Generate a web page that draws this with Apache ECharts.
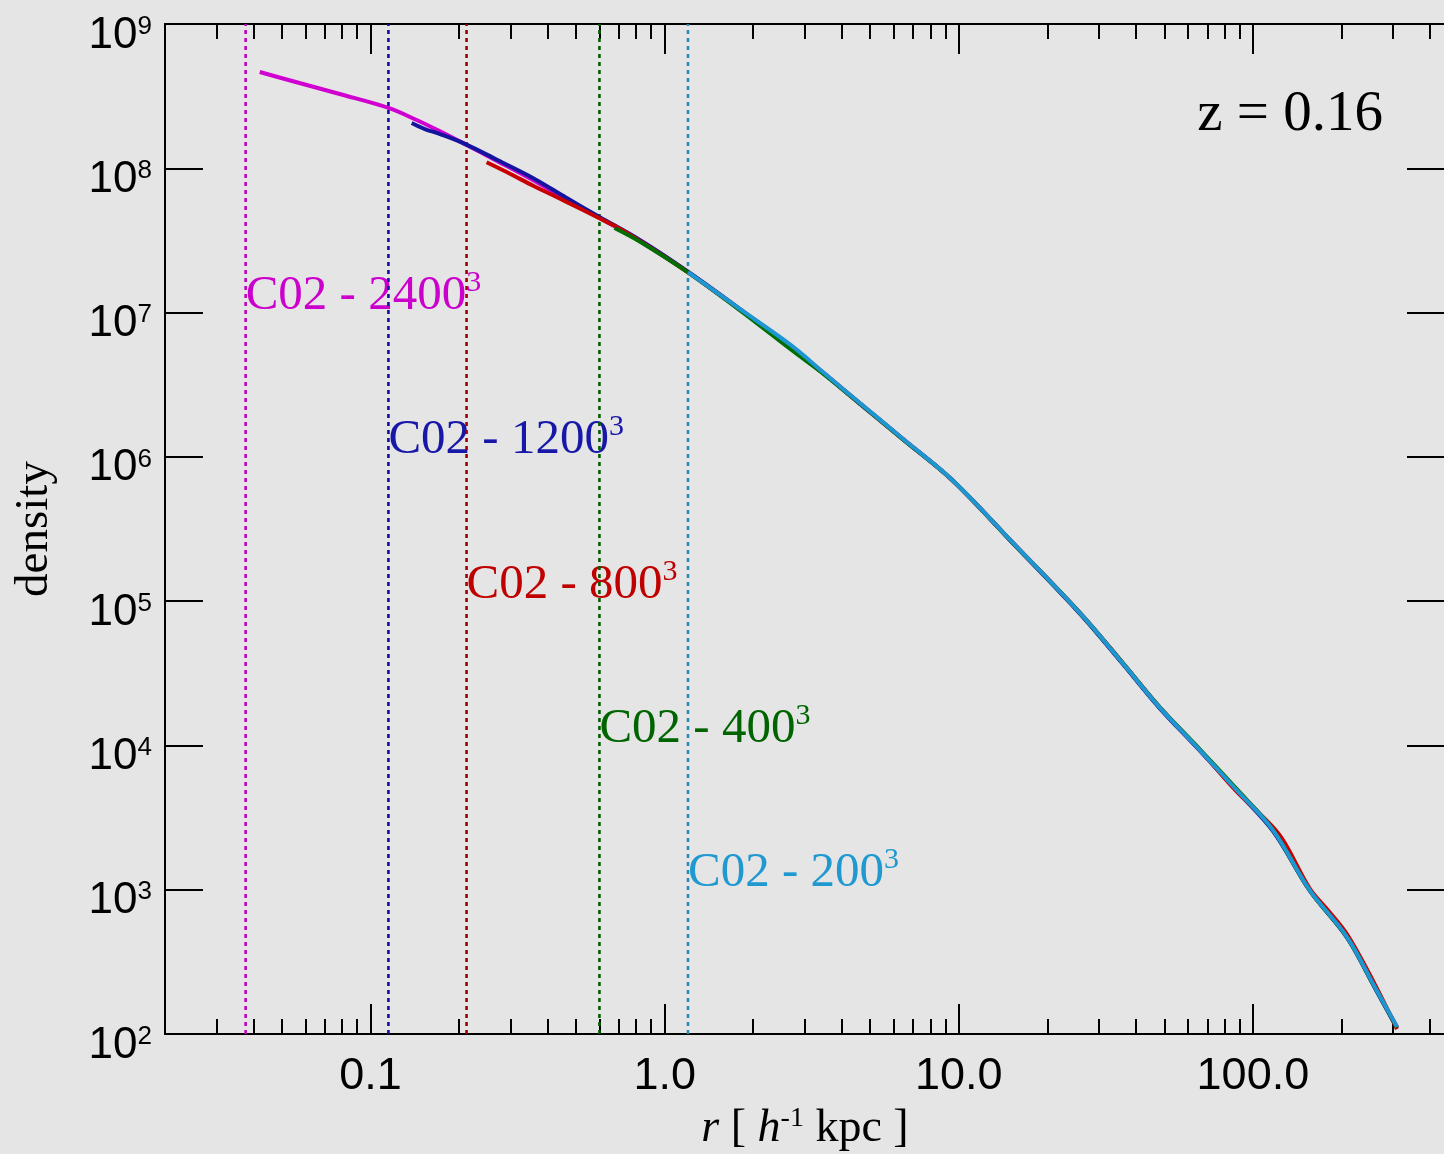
<!DOCTYPE html>
<html>
<head>
<meta charset="utf-8">
<script src="https://cdn.jsdelivr.net/npm/echarts@6/dist/echarts.min.js"></script>
<style>
  html, body { margin: 0; padding: 0; background: #e5e5e5; }
  #chart { width: 1444px; height: 1154px; }
</style>
</head>
<body>
<div id="chart"></div>
<script>
// Spherical density profiles of halo C02 at five resolutions (z = 0.16)
const r2400 = [0.042, 0.0573, 0.0785, 0.115, 0.1434, 0.1716, 0.212, 0.27, 0.356, 0.46, 0.60, 0.82, 1.2, 1.8, 2.7, 3.5, 4.6, 6.5, 9.5, 15, 25.8, 36, 48, 66, 88, 117, 156, 209, 260, 309];
const rho2400 = [4.65e8, 3.90e8, 3.27e8, 2.62e8, 2.16e8, 1.81e8, 1.45e8, 1.12e8, 8.3e7, 6.15e7, 4.52e7, 3.18e7, 1.91e7, 1.05e7, 5.77e6, 3.76e6, 2.36e6, 1.32e6, 6.92e5, 2.64e5, 8.28e4, 3.74e4, 1.85e4, 9.27e3, 4.91e3, 2.59e3, 995, 470, 211, 112];

const r1200 = [0.138, 0.153, 0.1716, 0.212, 0.27, 0.356, 0.46, 0.60, 0.82, 1.2, 1.8, 2.7, 3.5, 4.6, 6.5, 9.5, 15, 25.8, 36, 48, 66, 88, 117, 156, 209, 260, 309];
const rho1200 = [2.06e8, 1.87e8, 1.73e8, 1.46e8, 1.14e8, 8.57e7, 6.3e7, 4.6e7, 3.2e7, 1.92e7, 1.06e7, 5.7e6, 3.72e6, 2.34e6, 1.31e6, 6.9e5, 2.62e5, 8.2e4, 3.7e4, 1.83e4, 9.2e3, 4.85e3, 2.55e3, 990, 465, 208, 110];

const r800 = [0.248, 0.30, 0.356, 0.46, 0.60, 0.687, 0.82, 1.2, 1.8, 2.7, 3.5, 4.6, 6.5, 9.5, 15, 25.8, 36, 48, 66, 88, 105, 125, 156, 180, 209, 260, 309];
const rho800 = [1.10e8, 9.1e7, 7.6e7, 5.9e7, 4.5e7, 3.92e7, 3.15e7, 1.9e7, 1.05e7, 5.6e6, 3.74e6, 2.35e6, 1.31e6, 6.9e5, 2.63e5, 8.3e4, 3.76e4, 1.86e4, 9.3e3, 4.8e3, 3.4e3, 2.3e3, 1.02e3, 720, 490, 220, 108];

const r400 = [0.675, 0.82, 1.2, 1.8, 2.7, 3.5, 4.6, 6.5, 9.5, 15, 25.8, 36, 48, 66, 88, 117, 156, 209, 260, 309];
const rho400 = [3.86e7, 3.12e7, 1.9e7, 1.04e7, 5.5e6, 3.7e6, 2.35e6, 1.31e6, 6.9e5, 2.63e5, 8.3e4, 3.75e4, 1.86e4, 9.4e3, 5.0e3, 2.6e3, 990, 468, 210, 111];

const r200 = [1.2, 1.8, 2.7, 3.5, 4.6, 6.5, 9.5, 15, 25.8, 36, 48, 66, 88, 117, 156, 209, 260, 309];
const rho200 = [1.91e7, 1.06e7, 5.9e6, 3.78e6, 2.37e6, 1.32e6, 6.92e5, 2.64e5, 8.28e4, 3.74e4, 1.85e4, 9.27e3, 4.91e3, 2.59e3, 995, 470, 211, 112];

// Runs, their resolution limits (dotted lines) and label heights
const runNames = ['2400', '1200', '800', '400', '200'];
const resolutionRadius = [0.0376, 0.115, 0.212, 0.60, 1.20];
const labelDensity = [1.3e7, 1.3e6, 1.3e5, 1.3e4, 1.3e3];
const curveColors = ['#d000d0', '#1414a0', '#c80000', '#006e00', '#1e96d2'];
const limitColors = ['#c000c0', '#10109c', '#a00000', '#006000', '#2a8cb4'];
const labelColors = ['#cc00cc', '#1818a8', '#c00000', '#006400', '#2098d0'];

// Axis ticks
const xRange = [0.02, 450];
const yRange = [1e2, 1e9];
const xMajor = [0.1, 1, 10, 100];
const xMinor = [0.03, 0.04, 0.05, 0.06, 0.07, 0.08, 0.09,
                0.2, 0.3, 0.4, 0.5, 0.6, 0.7, 0.8, 0.9,
                2, 3, 4, 5, 6, 7, 8, 9,
                20, 30, 40, 50, 60, 70, 80, 90,
                200, 300, 400];
const yMajor = [1e2, 1e3, 1e4, 1e5, 1e6, 1e7, 1e8, 1e9];

const profiles = [
  [r2400, rho2400], [r1200, rho1200], [r800, rho800], [r400, rho400], [r200, rho200]
];

const SANS = '"Liberation Sans", Arial, sans-serif';
const SERIF = '"Liberation Serif", "Times New Roman", serif';

const chart = echarts.init(document.getElementById('chart'), null, { renderer: 'canvas' });

function xAxisDef(position, ticks, tickLen, extra) {
  return Object.assign({
    type: 'log',
    position: position,
    gridIndex: 0,
    min: xRange[0],
    max: xRange[1],
    logBase: 10,
    axisLine: { show: true, onZero: false, lineStyle: { color: '#000', width: 2 } },
    axisTick: { show: true, inside: true, length: tickLen, customValues: ticks, lineStyle: { color: '#000', width: 2 } },
    axisLabel: { show: false },
    splitLine: { show: false },
    minorTick: { show: false }
  }, extra || {});
}

function yAxisDef(position, showLabels) {
  return {
    type: 'log',
    position: position,
    gridIndex: 0,
    min: yRange[0],
    max: yRange[1],
    logBase: 10,
    axisLine: { show: true, onZero: false, lineStyle: { color: '#000', width: 2 } },
    axisTick: { show: true, inside: true, length: 38, customValues: yMajor, lineStyle: { color: '#000', width: 2 } },
    axisLabel: showLabels ? {
      show: true,
      customValues: yMajor,
      margin: 13,
      padding: [23, 0, 0, 0],
      formatter: v => '{a|10}{b|' + Math.round(Math.log10(v)) + '}',
      rich: {
        a: { fontFamily: SANS, fontSize: 44, lineHeight: 44, color: '#000' },
        b: { fontFamily: SANS, fontSize: 26, lineHeight: 11, verticalAlign: 'top', color: '#000' }
      }
    } : { show: false },
    splitLine: { show: false },
    minorTick: { show: false }
  };
}

const series = [];

// resolution limits: dotted verticals spanning the plot
resolutionRadius.forEach((r, i) => {
  series.push({
    type: 'line',
    name: 'limit ' + runNames[i],
    xAxisIndex: 0, yAxisIndex: 0,
    data: [[r, yRange[0]], [r, yRange[1]]],
    symbol: 'none',
    silent: true,
    z: 3,
    lineStyle: { color: limitColors[i], width: 2.6, type: [4, 4], opacity: 1 }
  });
});

// profiles
profiles.forEach((p, i) => {
  series.push({
    type: 'line',
    name: 'C02 - ' + runNames[i],
    xAxisIndex: 0, yAxisIndex: 0,
    data: p[0].map((r, k) => [r, p[1][k]]),
    symbol: 'none',
    smooth: 0.35,
    z: 4 + i,
    lineStyle: { color: curveColors[i], width: 4, opacity: 1 }
  });
});

// run labels, anchored on each resolution limit
series.push({
  type: 'scatter',
  name: 'labels',
  xAxisIndex: 0, yAxisIndex: 0,
  symbolSize: 0,
  silent: true,
  z: 2,
  itemStyle: { opacity: 1 },
  data: runNames.map((n, i) => ({
    value: [resolutionRadius[i], labelDensity[i]],
    label: {
      show: true,
      position: 'right',
      distance: 0,
      opacity: 1,
      formatter: '{m|C02 - ' + n + '}{s|3}',
      rich: {
        m: { fontFamily: SERIF, fontSize: 49, lineHeight: 56, color: labelColors[i], opacity: 1 },
        s: { fontFamily: SERIF, fontSize: 30, lineHeight: 42, verticalAlign: 'top', color: labelColors[i], opacity: 1 }
      }
    }
  }))
});

chart.setOption({
  animation: false,
  backgroundColor: '#e5e5e5',
  grid: { left: 165, right: -1, top: 24, bottom: 120, containLabel: false, outerBoundsMode: 'none' },
  xAxis: [
    xAxisDef('bottom', xMajor, 30, {
      axisLabel: {
        show: true,
        customValues: xMajor,
        margin: 21,
        fontFamily: SANS,
        fontSize: 45,
        lineHeight: 44,
        color: '#000',
        formatter: v => Number(v).toFixed(1)
      },
      name: '{i|r} [ {i|h}{s|-1} kpc ]',
      nameLocation: 'middle',
      nameGap: 70,
      nameTextStyle: {
        fontFamily: SERIF, fontSize: 46, lineHeight: 50, color: '#000',
        rich: {
          i: { fontFamily: SERIF, fontSize: 46, fontStyle: 'italic', lineHeight: 50, color: '#000' },
          s: { fontFamily: SERIF, fontSize: 28, lineHeight: 36, verticalAlign: 'top', color: '#000' }
        }
      }
    }),
    xAxisDef('bottom', xMinor, 15, { axisLine: { show: false, onZero: false } }),
    xAxisDef('top', xMajor, 30),
    xAxisDef('top', xMinor, 15, { axisLine: { show: false, onZero: false } })
  ],
  yAxis: [
    Object.assign(yAxisDef('left', true), {
      name: 'density',
      nameLocation: 'middle',
      nameGap: 105,
      nameTextStyle: { fontFamily: SERIF, fontSize: 47, lineHeight: 50, color: '#000' }
    }),
    yAxisDef('right', false)
  ],
  graphic: [{
    type: 'text',
    right: 61,
    top: 87,
    style: { text: 'z = 0.16', font: '57px ' + SERIF, fill: '#000' }
  }],
  series: series
});
</script>
</body>
</html>
